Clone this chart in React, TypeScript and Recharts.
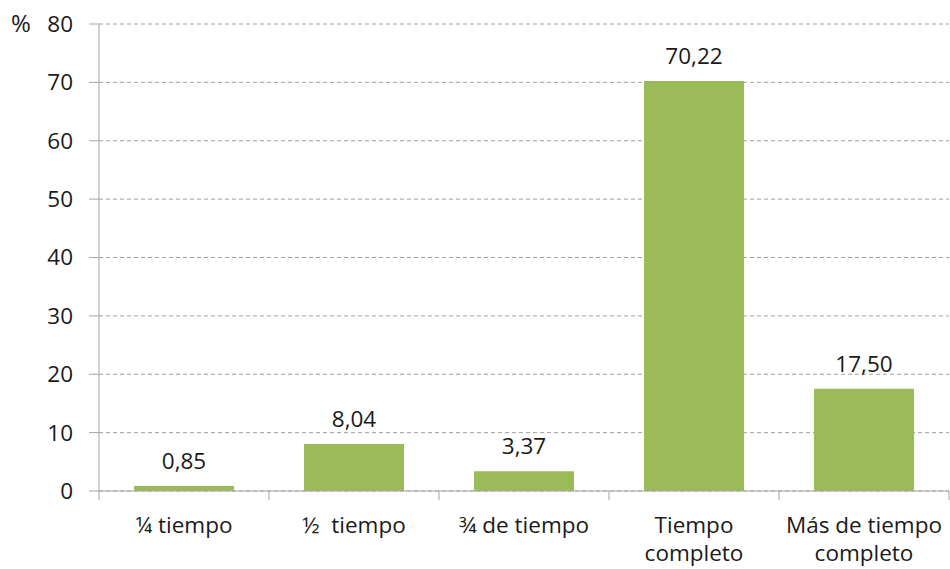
import React from "react";
import { BarChart, Bar, XAxis, YAxis, CartesianGrid, LabelList } from "recharts";

const categories = ["¼ tiempo", "½  tiempo", "¾ de tiempo", "Tiempo completo", "Más de tiempo completo"];
const categoryLines = [["¼ tiempo"], ["½  tiempo"], ["¾ de tiempo"], ["Tiempo", "completo"], ["Más de tiempo", "completo"]];
const values = [0.85, 8.04, 3.37, 70.22, 17.5];
const yTicks = [0, 10, 20, 30, 40, 50, 60, 70, 80];

const data = categories.map((c, i) => ({ name: c, value: values[i], idx: i }));

const FONT = "'Open Sans', sans-serif";
const TEXT = "#1a1a1a";
const AXIS = "#A6A6A6";
const FS = 22.5;

const XTick = (props: any) => {
  const { x, y, payload, index } = props;
  const half = payload && payload.offset ? payload.offset : 85;
  const lines = categoryLines[index] || [payload.value];
  const axisY = y;
  return (
    <g>
      <line x1={x - half} x2={x - half} y1={axisY} y2={axisY + 9} stroke={AXIS} strokeWidth={1} />
      {index === categories.length - 1 && (
        <line x1={x + half} x2={x + half} y1={axisY} y2={axisY + 9} stroke={AXIS} strokeWidth={1} />
      )}
      <text x={x} y={y} textAnchor="middle" fill={TEXT} fontFamily={FONT} fontSize={FS}>
        {lines.map((l: string, i: number) => (
          <tspan key={i} x={x} dy={i === 0 ? 42 : 28} style={{ whiteSpace: "pre" }}>{l}</tspan>
        ))}
      </text>
    </g>
  );
};

const fmt = (v: any) => Number(v).toFixed(2).replace(".", ",");

export default function App() {
  return (
    <div style={{ position: "absolute", left: 0, top: 0, width: 950, height: 569, background: "#fff" }}>
      <BarChart
        width={950}
        height={569}
        data={data}
        margin={{ top: 24, right: 1, bottom: 0, left: 0 }}
        barCategoryGap="20.6%"
      >
        <CartesianGrid vertical={false} stroke="#A0A0A0" strokeDasharray="4 3" />
        <XAxis
          dataKey="name"
          height={78}
          axisLine={{ stroke: AXIS }}
          tickLine={false}
          tick={<XTick />}
          interval={0}
          tickSize={0}
          tickMargin={0}
        />
        <YAxis
          domain={[0, 80]}
          ticks={yTicks}
          width={99}
          axisLine={{ stroke: AXIS }}
          tickLine={{ stroke: AXIS }}
          tickSize={10}
          tickMargin={16}
          tick={{ fill: TEXT, fontFamily: FONT, fontSize: FS }}
          interval={0}
        />
        <Bar dataKey="value" fill="#9BBB59" isAnimationActive={false}>
          <LabelList
            dataKey="value"
            position="top"
            offset={17}
            formatter={fmt}
            style={{ fill: TEXT, fontFamily: FONT, fontSize: FS }}
          />
        </Bar>
        <text x={11} y={32} fill={TEXT} fontFamily={FONT} fontSize={24}>%</text>
      </BarChart>
    </div>
  );
}
